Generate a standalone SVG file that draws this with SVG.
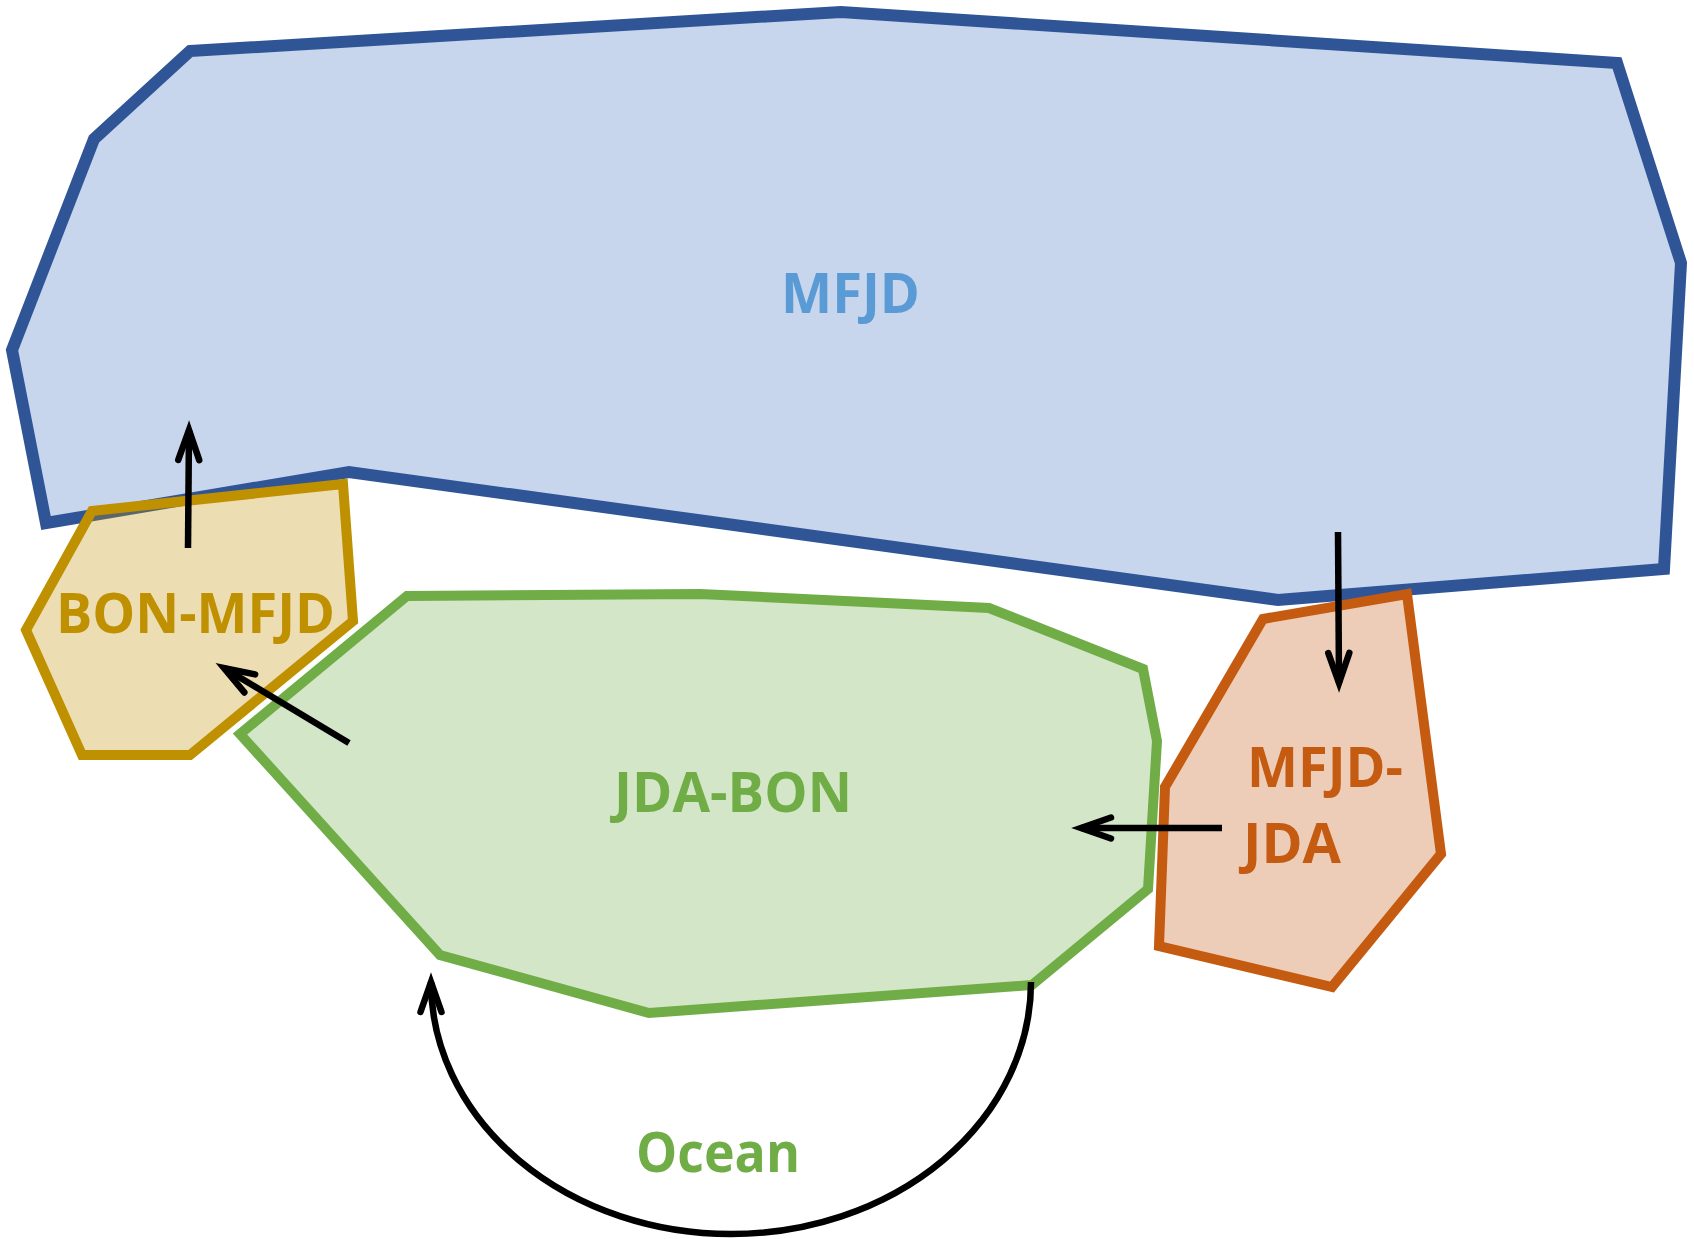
<svg xmlns="http://www.w3.org/2000/svg" width="1694" height="1239" viewBox="0 0 1694 1239">
<style>
.region{stroke-width:10;stroke-linejoin:miter}
.lbl{font-family:"Open Sans",Lato,"Liberation Sans",sans-serif;font-weight:bold;font-size:55px}
.conn{fill:none;stroke:#000;stroke-width:6.5;marker-end:url(#ah)}
</style>
<defs>
<marker id="ah" markerUnits="userSpaceOnUse" viewBox="-40 -20 50 40" markerWidth="50" markerHeight="40" refX="0" refY="0" orient="auto" overflow="visible">
<path d="M-30,-10.5 L0,0 L-30,10.5" fill="none" stroke="#000" stroke-width="6.5" stroke-linecap="round" stroke-linejoin="miter"/>
</marker>
</defs>
<rect width="1694" height="1239" fill="#fff"/>
<g id="MFJD">
<polygon class="region" points="190,51 841,12 1617,63 1681,263 1664,569 1278,600 349,472 46,523 12,350 94,139" fill="#C7D5ED" stroke="#2F5597" style="stroke-width:12"/>
<text class="lbl" x="781" y="313" textLength="139" lengthAdjust="spacingAndGlyphs" fill="#5B9BD5">MFJD</text>
</g>
<g id="BON-MFJD">
<polygon class="region" points="92,511 343,484 353,621 190,755 82,755 26,630" fill="#BF9000" fill-opacity="0.3" stroke="#BF9000"/>
<text class="lbl" x="56" y="633" textLength="279" lengthAdjust="spacingAndGlyphs" fill="#BF9000">BON-MFJD</text>
</g>
<g id="JDA-BON">
<polygon class="region" points="407,596 700,594 989,608 1143,669 1157,741 1148,889 1032,985 649,1013 440,955 240,734" fill="#D4E6C8" stroke="#70AD47"/>
<text class="lbl" x="614" y="812" textLength="238" lengthAdjust="spacingAndGlyphs" fill="#70AD47">JDA-BON</text>
</g>
<g id="MFJD-JDA">
<polygon class="region" points="1263,619 1407,594 1441,854 1332,987 1159,946 1165,787" fill="#C55A11" fill-opacity="0.3" stroke="#C55A11"/>
<text class="lbl" x="1247" y="787" textLength="156" lengthAdjust="spacingAndGlyphs" fill="#C55A11">MFJD-</text>
<text class="lbl" x="1243" y="863" textLength="98" lengthAdjust="spacingAndGlyphs" fill="#C55A11">JDA</text>
</g>
<g id="Ocean">
<text class="lbl" x="636" y="1172" textLength="164" lengthAdjust="spacingAndGlyphs" fill="#70AD47">Ocean</text>
</g>
<g id="connectors">
<path class="conn" d="M188,548 L189,430"/>
<path class="conn" d="M349,743 L224,668"/>
<path class="conn" d="M1338,532 L1339,683"/>
<path class="conn" d="M1222,828 L1081,828"/>
<path class="conn" d="M1031,982 A300,252 0 0 1 431,982"/>
</g>
</svg>
